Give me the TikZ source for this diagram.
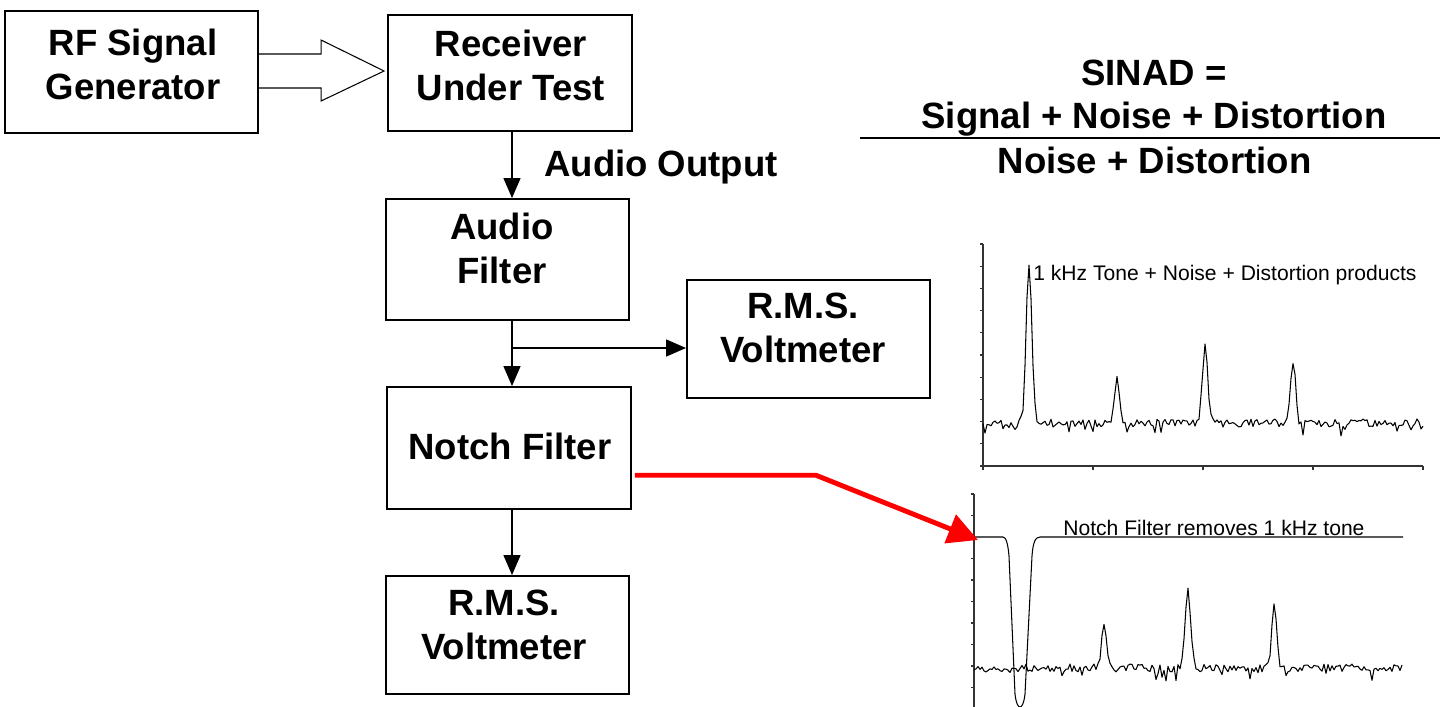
\documentclass[tikz,border=0pt]{standalone}
\usepackage{fontspec}
\setmainfont{Liberation Sans}
\usetikzlibrary{arrows.meta,calc}
\begin{document}
\begin{tikzpicture}[x=0.02cm,y=-0.02cm,
  box/.style={draw,line width=1.1pt,inner sep=0pt},
  btxt/.style={font=\fontsize{20.8}{25}\selectfont\bfseries,align=center,inner sep=0pt},
  stxt/.style={font=\fontsize{12}{14}\selectfont,inner sep=0pt,anchor=base west},
  conn/.style={line width=0.8pt,-{Triangle[length=0.4cm,width=0.34cm]}},
  blockarrow/.style={line width=0.6pt,line join=miter},
  ax/.style={line width=0.6pt,black!80},
  trace/.style={line width=0.6pt,line join=round},
  redarrow/.style={red,line width=2.8pt,-{Triangle[length=0.6cm,width=0.6cm]}}
]
\useasboundingbox (0,0) rectangle (1445,707);

% ---- boxes ----
\node[box,minimum width=5.06cm,minimum height=2.44cm] (rf) at (131.5,72) {};
\node[btxt] (rft) at (133,64.5) {RF Signal\\Generator};
\node[box,minimum width=4.88cm,minimum height=2.32cm] (rec) at (510,73) {};
\node[btxt] (rect) at (511,65) {Receiver\\Under Test};
\node[box,minimum width=4.86cm,minimum height=2.42cm] (af) at (507.5,259.5) {};
\node[btxt] (aft) at (502,248) {Audio\\Filter};
\node[box,minimum width=4.86cm,minimum height=2.36cm] (rms1) at (808.5,339) {};
\node[btxt] (rms1t) at (803,328) {R.M.S.\\Voltmeter};
\node[box,minimum width=4.88cm,minimum height=2.44cm] (nf) at (509,448) {};
\node[btxt] (nft) at (510,446) {Notch Filter};
\node[box,minimum width=4.86cm,minimum height=2.36cm] (rms2) at (507.5,635) {};
\node[btxt] (rms2t) at (504,625) {R.M.S.\\Voltmeter};
\node[btxt,anchor=base] (ao) at (661,176) {Audio Output};

% ---- block arrow RF -> receiver ----
\coordinate (bt) at ($(rec.west)+(-3,-2)$);
\draw[blockarrow] ($(rf.east |- bt)+(0,-17)$) -- ($(bt)+(-63,-17)$) -- ($(bt)+(-63,-31)$)
  -- (bt) -- ($(bt)+(-63,30)$) -- ($(bt)+(-63,17)$) -- ($(rf.east |- bt)+(0,17)$);

% ---- connectors ----
\coordinate (spine) at (512,0);
\draw[conn] (rec.south -| spine) -- (af.north -| spine);
\draw[conn] (af.south -| spine) -- (nf.north -| spine);
\coordinate (br) at (512,348);
\draw[conn] (br) -- (br -| rms1.west);
\draw[conn] (nf.south -| spine) -- (rms2.north -| spine);

% ---- SINAD formula ----
\node[btxt,anchor=base] (s1) at (1154,85) {SINAD =};
\node[btxt,anchor=base] (s2) at (1154,128) {Signal + Noise + Distortion};
\node[btxt,anchor=base] (s3) at (1154.5,173) {Noise + Distortion};
\draw[line width=1.1pt] (860,138) -- (1440,138);

% ---- chart 1 ----
\draw[ax] (983,244) -- (983,466) -- (1423,466);
\foreach \i in {0,...,10} \draw[ax] (980,{244+22.2*\i}) -- (983,{244+22.2*\i});
\foreach \i in {0,...,4} \draw[ax] ({983+110*\i},466) -- ({983+110*\i},470);
\pgfmathsetseed{7}
\draw[trace] plot[domain=983:1423,samples=221] (\x,{423
  - 157*exp(-(min(abs(\x-1029)/4.0,5))^2)
  - 44*exp(-(min(abs(\x-1117)/3.6,5))^2)
  - 80*exp(-(min(abs(\x-1205)/3.8,5))^2)
  - 62*exp(-(min(abs(\x-1293)/3.8,5))^2)
  + 4*rand + 70*max(0,rnd-0.86)});
\node[stxt] (t1) at (1033,280) {1 kHz Tone + Noise + Distortion products};

% ---- chart 2 ----
\draw[ax] (974,494) -- (974,707);
\foreach \i in {0,...,9} \draw[ax] (971,{494+21.5*\i}) -- (974,{494+21.5*\i});
\pgfmathsetseed{11}
\draw[trace] plot[domain=974:1402,samples=215] (\x,{668
  - 44*exp(-(min(abs(\x-1104)/3.6,5))^2)
  - 78*exp(-(min(abs(\x-1188)/3.8,5))^2)
  - 61*exp(-(min(abs(\x-1274)/3.8,5))^2)
  + 4*rand + 70*max(0,rnd-0.86)});
\node[stxt] (t2) at (1063,535) {Notch Filter removes 1 kHz tone};
\draw[trace] (974,537) -- (1003,537) .. controls (1006,537) and (1008,544) .. (1009,556)
  -- (1015,694) .. controls (1016,703) and (1018,707) .. (1020,707)
  .. controls (1022,707) and (1024,703) .. (1025,694)
  -- (1032,556) .. controls (1033,543) and (1035,537) .. (1040,537) -- (1403,537);

% ---- red arrow ----
\coordinate (tip) at (978,540);
\draw[redarrow] ($(nf.south east)!0.28!(nf.north east)+(3,0)$) -- ++(181,0) -- (tip);
\end{tikzpicture}
\end{document}
